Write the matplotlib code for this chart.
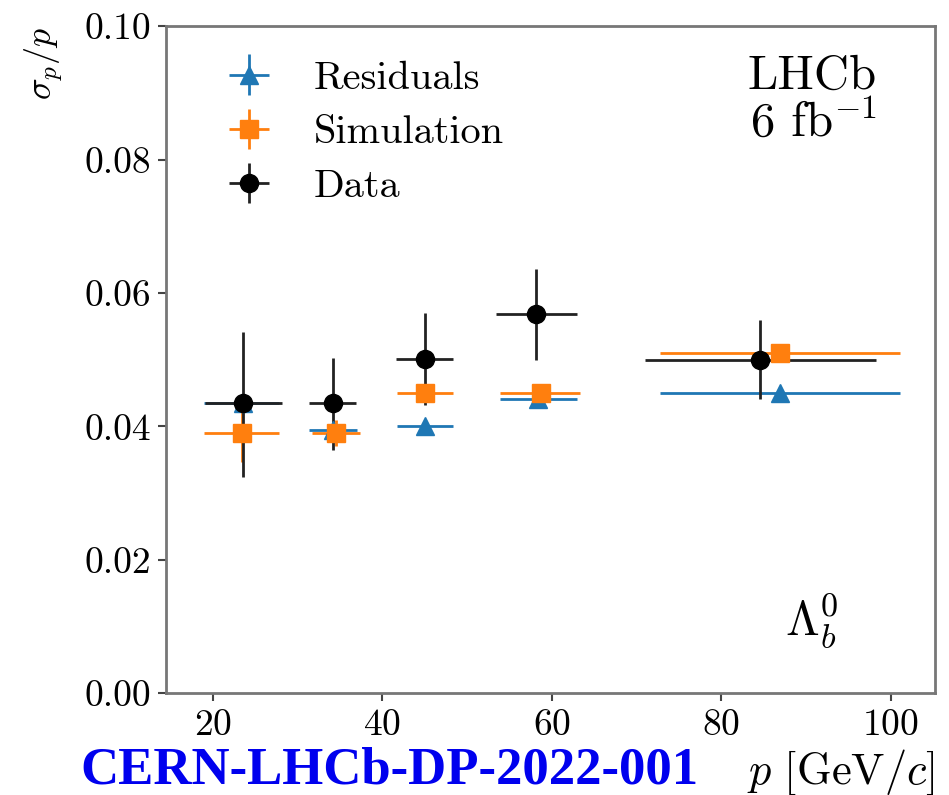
import matplotlib
matplotlib.use("Agg")
import matplotlib.pyplot as plt

plt.rcParams['font.family'] = 'serif'
plt.rcParams['font.serif'] = ['cmr10', 'DejaVu Serif']
plt.rcParams['mathtext.fontset'] = 'cm'
plt.rcParams['axes.formatter.use_mathtext'] = True
plt.rcParams['axes.unicode_minus'] = False

# Residuals
res_x = [23.5, 34.2, 45.0, 58.4, 86.9]
res_xlo = [4.6, 2.9, 3.3, 4.5, 14.1]
res_xhi = [4.3, 2.8, 3.3, 4.6, 14.2]
res_y = [0.0435, 0.0395, 0.0401, 0.0441, 0.0450]
res_yerr = [0.0005, 0.0005, 0.0005, 0.0005, 0.0005]

# Simulation
sim_x = [23.4, 34.5, 45.0, 58.7, 86.9]
sim_xlo = [4.5, 2.8, 3.3, 4.8, 14.1]
sim_xhi = [4.4, 2.9, 3.3, 4.6, 14.2]
sim_y = [0.0390, 0.0390, 0.0450, 0.0450, 0.0510]
sim_yerr = [0.0044, 0.0020, 0.0008, 0.0008, 0.0008]

# Data
dat_x = [23.5, 34.2, 45.0, 58.1, 84.6]
dat_xlo = [4.5, 2.9, 3.4, 4.7, 13.6]
dat_xhi = [4.6, 2.7, 3.3, 4.9, 13.7]
dat_y = [0.0435, 0.0435, 0.0501, 0.0568, 0.0500]
dat_ylo = [0.0111, 0.0071, 0.0069, 0.0068, 0.0059]
dat_yhi = [0.0107, 0.0067, 0.0069, 0.0068, 0.0059]

fig = plt.figure(figsize=(9.49, 7.95), dpi=100)
ax = fig.add_axes([0.175, 0.128, 0.81, 0.839])

ax.errorbar(res_x, res_y, xerr=[res_xlo, res_xhi], yerr=res_yerr, fmt='^',
            color='#1f77b4', ms=13, lw=2, capsize=0, label='Residuals')
ax.errorbar(sim_x, sim_y, xerr=[sim_xlo, sim_xhi], yerr=sim_yerr, fmt='s',
            color='#ff7f0e', ms=13, lw=2, capsize=0, label='Simulation')
ax.errorbar(dat_x, dat_y, xerr=[dat_xlo, dat_xhi], yerr=[dat_ylo, dat_yhi], fmt='o',
            color='black', ecolor='#222222', ms=13, lw=2, capsize=0, label='Data')

ax.set_xlim(14.45, 105.2)
ax.set_ylim(0.0, 0.10)
ax.set_xticks([20, 40, 60, 80, 100])
ax.set_yticks([0.0, 0.02, 0.04, 0.06, 0.08, 0.10])
ax.set_yticklabels(['0.00', '0.02', '0.04', '0.06', '0.08', '0.10'])
ax.tick_params(labelsize=27, direction='out', length=6, width=1.5, color='#444444', pad=5)
for s in ax.spines.values():
    s.set_color('#777777')
    s.set_linewidth(2)

ax.set_ylabel(r'$\sigma_p/p$', fontsize=26, loc='top', labelpad=14)
ax.set_xlabel(r'$p\ [\mathrm{GeV}/c]$', fontsize=32, loc='right', labelpad=4)

ax.legend(loc='upper left', frameon=False, fontsize=29, handlelength=1.2,
          borderaxespad=0.2, labelspacing=0.45, handletextpad=1.0,
          bbox_to_anchor=(0.045, 0.985))

ax.text(0.925, 0.957, 'LHCb\n6 fb$^{-1}$', transform=ax.transAxes, ha='right', va='top',
        fontsize=35, linespacing=1.05)
ax.text(0.84, 0.065, r'$\Lambda_b^0$', transform=ax.transAxes, ha='center', va='bottom',
        fontsize=35)

fig.text(0.085, 0.0, 'CERN-LHCb-DP-2022-001', color='#0000ee', fontsize=38,
         fontweight='bold', family='Liberation Serif', ha='left', va='bottom')

fig.savefig('out.png', dpi=100)
